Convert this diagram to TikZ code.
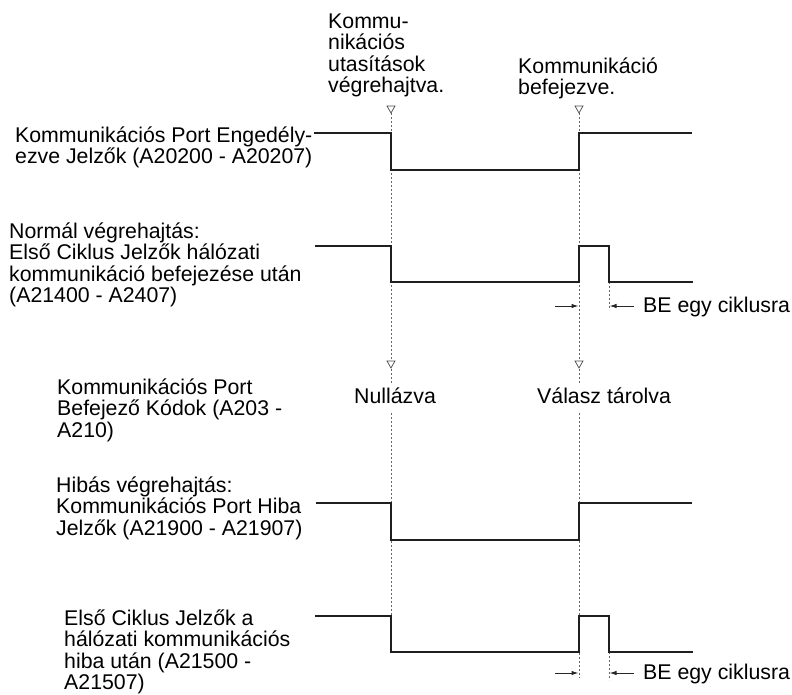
\documentclass[tikz,border=0pt]{standalone}
\usepackage{fontspec}
\setmainfont{Liberation Sans}
\usetikzlibrary{arrows.meta}
\newcommand{\firstline}{\rule{0pt}{16pt}}
\begin{document}
\begin{tikzpicture}[x=1pt,y=-1pt,
  every node/.style={inner sep=0pt, font=\fontsize{21.3pt}{21.5pt}\selectfont},
  siglabel/.style={anchor=north west, align=left},
  wave/.style={line width=2pt, line join=miter, draw=black!88},
  guide/.style={line width=0.9pt, draw=black!60, dash pattern=on 2pt off 2pt},
  marker/.style={line width=0.7pt, draw=black!70, fill=white},
  span/.style={line width=1pt, draw=black!85, -{Latex[length=7pt,width=4.5pt]}},
  tag/.style={anchor=base west, fill=white, text height=17pt, text depth=5pt, inner xsep=1pt, inner ysep=3pt}
]
\useasboundingbox (0,0) rectangle (792,695);

% timing references
\coordinate (ta) at (391,113);
\coordinate (tb) at (579,113);
\coordinate (ua) at (391,616);
\coordinate (ub) at (579,678);
\coordinate (pa1) at (609,282);
\coordinate (pa2) at (609,310);
\coordinate (pb1) at (609,652);
\coordinate (pb2) at (609,680);

% dotted timing guides
\draw[guide] (ta) -- (ua);
\draw[guide] (tb) -- (ub);
\draw[guide] (pa1) -- (pa2);
\draw[guide] (pb1) -- (pb2);

% waveforms
\draw[wave] (314,133) -- (391,133) -- (391,170) -- (579,170) -- (579,133) -- (692,133);
\draw[wave] (315,246) -- (391,246) -- (391,282) -- (579,282) -- (579,246) -- (609,246) -- (609,282) -- (693,282);
\draw[wave] (316,503) -- (391,503) -- (391,540) -- (579,540) -- (579,503) -- (692,503);
\draw[wave] (315,616) -- (391,616) -- (391,652) -- (579,652) -- (579,616) -- (609,616) -- (609,652) -- (693,652);

% event markers
\foreach \x/\y in {391/113, 579/113, 391/368, 579/368}
  \draw[marker] (\x-4,\y-7) -- (\x+4,\y-7) -- (\x,\y) -- cycle;

% one-cycle pulse width arrows
\coordinate (la1) at (555,306);  \coordinate (lb1) at (578.5,306);
\coordinate (ra1) at (634,306);  \coordinate (rb1) at (609.5,306);
\coordinate (la2) at (555,673);  \coordinate (lb2) at (578.5,673);
\coordinate (ra2) at (634,673);  \coordinate (rb2) at (609.5,673);
\draw[span] (la1) -- (lb1);
\draw[span] (ra1) -- (rb1);
\draw[span] (la2) -- (lb2);
\draw[span] (ra2) -- (rb2);
\node[anchor=base west] (be1) at (643,312) {BE egy ciklusra};
\node[anchor=base west] (be2) at (643,679) {BE egy ciklusra};

% event captions
\node[siglabel] (evA) at (328,12) {\firstline Kommu-\\nikációs\\utasítások\\végrehajtva.};
\node[siglabel] (evB) at (518,57) {\firstline Kommunikáció\\befejezve.};
\node[tag] (clr) at (353,403) {Nullázva};
\node[tag] (sto) at (536,403) {Válasz tárolva};

% signal names
\node[siglabel] (s1) at (15,126) {\firstline Kommunikációs Port Engedély-\\ezve Jelzők (A20200 - A20207)};
\node[siglabel] (s2) at (9,222) {\firstline Normál végrehajtás:\\Első Ciklus Jelzők hálózati\\kommunikáció befejezése után\\(A21400 - A2407)};
\node[siglabel] (s3) at (57,378) {\firstline Kommunikációs Port\\Befejező Kódok (A203 -\\A210)};
\node[siglabel] (s4) at (56,476) {\firstline Hibás végrehajtás:\\Kommunikációs Port Hiba\\Jelzők (A21900 - A21907)};
\node[siglabel] (s5) at (64,609) {\firstline Első Ciklus Jelzők a\\hálózati kommunikációs\\hiba után (A21500 -\\A21507)};
\end{tikzpicture}
\end{document}
